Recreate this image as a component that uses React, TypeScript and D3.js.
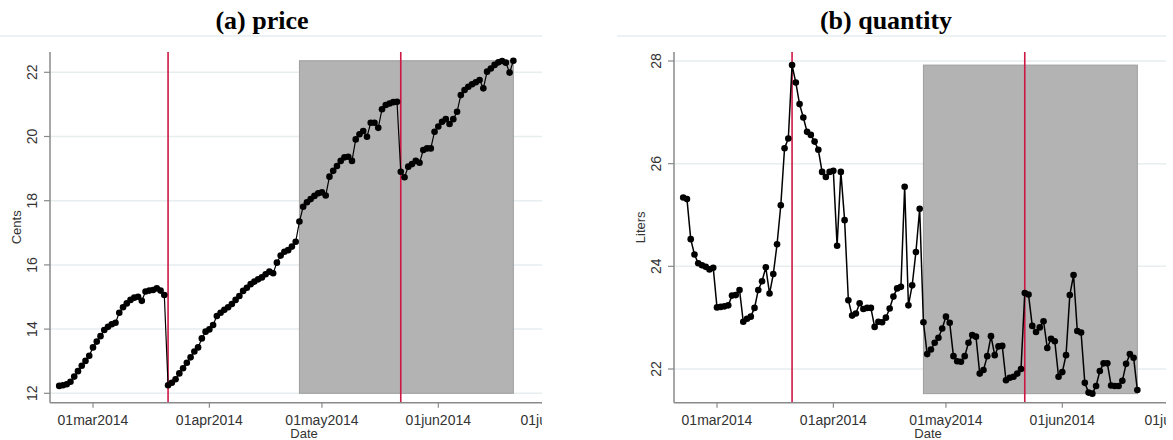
import React from "react";
import * as d3 from "d3";

// daily series, 20feb2014 .. 21jun2014
const startDate = new Date(Date.UTC(2014, 1, 20));

const price = [
  12.23, 12.25, 12.28, 12.36, 12.52, 12.69, 12.86, 13.01, 13.17, 13.43,
  13.61, 13.78, 13.97, 14.07, 14.15, 14.2, 14.51, 14.68, 14.8, 14.91,
  14.98, 15.01, 14.88, 15.17, 15.2, 15.22, 15.27, 15.2, 15.06, 12.25,
  12.33, 12.44, 12.62, 12.78, 12.95, 13.12, 13.3, 13.43, 13.71, 13.92,
  13.99, 14.13, 14.41, 14.51, 14.6, 14.68, 14.78, 14.91, 15.03, 15.19,
  15.29, 15.4, 15.48, 15.55, 15.61, 15.71, 15.79, 15.74, 16.07, 16.29,
  16.41, 16.46, 16.57, 16.72, 17.35, 17.81, 17.95, 18.05, 18.15, 18.23,
  18.26, 18.16, 18.75, 18.93, 19.08, 19.24, 19.35, 19.37, 19.24, 19.91,
  20.07, 20.17, 19.99, 20.43, 20.43, 20.27, 20.85, 20.98, 21.03, 21.07,
  21.08, 18.9, 18.73, 19.06, 19.14, 19.24, 19.18, 19.58, 19.63, 19.63,
  20.15, 20.31, 20.46, 20.54, 20.39, 20.54, 20.77, 21.29, 21.45, 21.55,
  21.63, 21.69, 21.76, 21.5, 22.02, 22.12, 22.23, 22.31, 22.35, 22.3,
  21.99, 22.36,
];

const quantity = [
  25.34, 25.31, 24.53, 24.23, 24.06, 24.02, 23.99, 23.94, 23.97, 23.2,
  23.21, 23.22, 23.24, 23.43, 23.44, 23.54, 22.92, 22.98, 23.02, 23.19,
  23.54, 23.71, 23.98, 23.47, 23.85, 24.43, 25.19, 26.3, 26.49, 27.92,
  27.58, 27.16, 26.9, 26.62, 26.56, 26.43, 26.27, 25.84, 25.74, 25.84,
  25.86, 24.4, 25.84, 24.9, 23.34, 23.04, 23.08, 23.28, 23.17, 23.19,
  23.19, 22.82, 22.92, 22.91, 23.0, 23.18, 23.41, 23.57, 23.6, 25.55,
  23.24, 23.63, 24.28, 25.12, 22.91, 22.29, 22.38, 22.51, 22.61, 22.79,
  23.02, 22.9, 22.25, 22.15, 22.14, 22.25, 22.51, 22.66, 22.63, 21.91,
  21.98, 22.25, 22.64, 22.27, 22.44, 22.45, 21.78, 21.83, 21.85, 21.91,
  22.0, 23.48, 23.45, 22.84, 22.72, 22.81, 22.93, 22.41, 22.59, 22.54,
  21.85, 21.94, 22.27, 23.44, 23.83, 22.74, 22.71, 21.73, 21.54, 21.52,
  21.67, 21.96, 22.11, 22.11, 21.68, 21.67, 21.67, 21.77, 22.1, 22.29,
  22.22, 21.59,
];

const priceTicks = [12, 14, 16, 18, 20, 22];
const quantityTicks = [22, 24, 26, 28];
const dateTicks = [
  new Date(Date.UTC(2014, 2, 1)),
  new Date(Date.UTC(2014, 3, 1)),
  new Date(Date.UTC(2014, 4, 1)),
  new Date(Date.UTC(2014, 5, 1)),
  new Date(Date.UTC(2014, 6, 1)),
];
const eventDates = [new Date(Date.UTC(2014, 2, 21)), new Date(Date.UTC(2014, 4, 22))];
const shadeDates = [new Date(Date.UTC(2014, 3, 25)), new Date(Date.UTC(2014, 5, 21))];
const priceShade = [12, 22.36];
const quantityShade = [21.52, 27.92];

const fmt = (d: Date) => d3.utcFormat("%d%b%Y")(d).toLowerCase();
const sans = "Arial, 'Liberation Sans', Helvetica, sans-serif";

const Panel = ({ shift, title, yLabel, values, ticks, yRange, shade, r, lw, id }: any) => {
  const axisX = 50 + shift;
  const rightX = 542 + shift;
  const top = 52;
  const bottom = 402.7;

  const x = d3
    .scaleUtc()
    .domain([dateTicks[0], dateTicks[3]])
    .range([93 + shift, 438.3 + shift]);
  const y = d3
    .scaleLinear()
    .domain([ticks[0], ticks[ticks.length - 1]])
    .range(yRange);

  const dates = values.map((_: number, i: number) => d3.utcDay.offset(startDate, i));
  const line = d3
    .line<number>()
    .x((_, i) => x(dates[i]))
    .y((d) => y(d));

  return (
    <g>
      <defs>
        <clipPath id={id}>
          <rect x={shift - 30} y={0} width={rightX - shift + 30} height={440} />
        </clipPath>
      </defs>
      <g clipPath={`url(#${id})`}>
        <line x1={shift - 7} x2={rightX} y1={36} y2={36} stroke="#e6eef0" strokeWidth={1.5} />
        {ticks.map((t: number) => (
          <line key={t} x1={axisX} x2={rightX} y1={y(t)} y2={y(t)} stroke="#e6eef0" strokeWidth={1.5} />
        ))}
        <rect
          x={x(shadeDates[0])}
          y={y(shade[1])}
          width={x(shadeDates[1]) - x(shadeDates[0])}
          height={y(shade[0]) - y(shade[1])}
          fill="#b3b3b3"
          stroke="#9e9e9e"
          strokeWidth={1}
        />
        {eventDates.map((d, i) => (
          <line key={i} x1={x(d)} x2={x(d)} y1={top} y2={bottom} stroke="#cc1845" strokeWidth={1.6} />
        ))}
        <path d={line(values) || ""} fill="none" stroke="#000" strokeWidth={lw} />
        {values.map((v: number, i: number) => (
          <circle key={i} cx={x(dates[i])} cy={y(v)} r={r} fill="#000" />
        ))}

        <line x1={axisX} x2={axisX} y1={top} y2={bottom} stroke="#8a8a8a" strokeWidth={1.5} />
        <line x1={axisX} x2={rightX} y1={bottom} y2={bottom} stroke="#8a8a8a" strokeWidth={1.5} />
        {ticks.map((t: number) => (
          <g key={t}>
            <line x1={axisX - 6} x2={axisX} y1={y(t)} y2={y(t)} stroke="#8a8a8a" strokeWidth={1.2} />
            <text
              transform={`translate(${axisX - 13},${y(t)}) rotate(-90)`}
              textAnchor="middle"
              fontFamily={sans}
              fontSize={14}
              fill="#333"
            >
              {t}
            </text>
          </g>
        ))}
        {dateTicks.map((d, i) => (
          <g key={i}>
            <line x1={x(d)} x2={x(d)} y1={bottom} y2={bottom + 5} stroke="#8a8a8a" strokeWidth={1.2} />
            <text x={x(d)} y={425} textAnchor="middle" fontFamily={sans} fontSize={14} fill="#333">
              {fmt(d)}
            </text>
          </g>
        ))}
        <text x={304 + shift} y={438} textAnchor="middle" fontFamily={sans} fontSize={13} fill="#333">
          Date
        </text>
        <text
          transform={`translate(${axisX - 29},${(top + bottom) / 2}) rotate(-90)`}
          textAnchor="middle"
          fontFamily={sans}
          fontSize={13}
          fill="#333"
        >
          {yLabel}
        </text>
      </g>
      <text
        x={262 + shift}
        y={29}
        textAnchor="middle"
        fontFamily="'Liberation Serif', 'Times New Roman', serif"
        fontWeight="bold"
        fontSize={26}
        fill="#000"
      >
        {title}
      </text>
    </g>
  );
};

export default function App() {
  return (
    <svg width={1173} height={440} style={{ position: "absolute", left: 0, top: 0, background: "#fff" }}>
      <Panel
        shift={0}
        id="clipA"
        title="(a) price"
        yLabel="Cents"
        values={price}
        ticks={priceTicks}
        yRange={[393.3, 72.3]}
        shade={priceShade}
        r={3.3}
        lw={1.2}
      />
      <Panel
        shift={624}
        id="clipB"
        title="(b) quantity"
        yLabel="Liters"
        values={quantity}
        ticks={quantityTicks}
        yRange={[369, 61]}
        shade={quantityShade}
        r={3.3}
        lw={1.5}
      />
    </svg>
  );
}
